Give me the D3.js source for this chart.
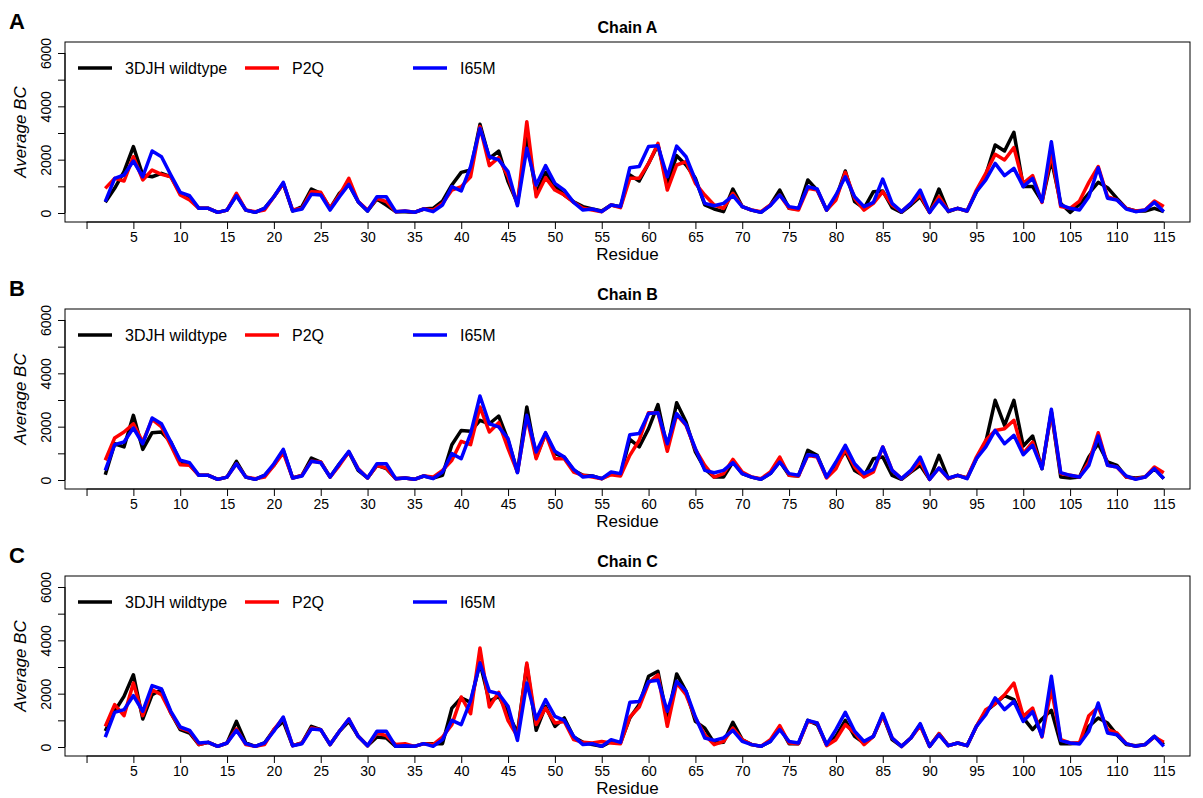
<!DOCTYPE html>
<html>
<head>
<meta charset="utf-8">
<script src="https://cdn.jsdelivr.net/npm/d3@7"></script>
<style>
  html, body { margin: 0; padding: 0; background: #fff; }
  svg { display: block; font-family: "Liberation Sans", Arial, sans-serif; }
</style>
</head>
<body>
<svg id="chart" width="1203" height="798"></svg>
<script>
// Residue numbers along the x axis
const residues = d3.range(2, 116);
const xTicks = d3.range(0, 116, 5);
const xLabels = d3.range(5, 116, 5);
const yTicks = [0, 1000, 2000, 3000, 4000, 5000, 6000];
const yLabels = [0, 2000, 4000, 6000];

const seriesNames = ["3DJH wildtype", "P2Q", "I65M"];
const seriesColors = ["#000000", "#ff0000", "#0000ff"];
const chainNames = ["Chain A", "Chain B", "Chain C"];
const panelLetters = ["A", "B", "C"];

// Average betweenness centrality per residue, chain A
const chainA_wt = [
  400, 925, 1550, 2490, 1425, 1360, 1490, 1360, 740, 550,
  175, 175, 25, 110, 675, 110, 25, 175, 610, 1110,
  75, 240, 900, 740, 175, 740, 1075, 425, 75, 525,
  300, 50, 50, 25, 150, 175, 450, 1050, 1525, 1610,
  3325, 2050, 2325, 1175, 360, 2800, 740, 1525, 1025, 675,
  425, 240, 150, 75, 300, 240, 1425, 1200, 1860, 2550,
  1110, 2150, 1800, 1300, 300, 150, 50, 900, 240, 110,
  25, 300, 860, 175, 150, 1240, 860, 110, 550, 1575,
  425, 175, 800, 825, 200, 25, 300, 610, 25, 900,
  50, 175, 75, 800, 1425, 2550, 2325, 3025, 990, 990,
  425, 1990, 360, 25, 325, 740, 1150, 950, 550, 175,
  75, 75, 175, 50
];
const chainA_p2q = [
  925, 1300, 1200, 2110, 1240, 1610, 1450, 1360, 675, 490,
  175, 175, 25, 110, 740, 110, 50, 110, 610, 1110,
  110, 175, 800, 775, 175, 675, 1300, 425, 110, 550,
  425, 50, 75, 25, 150, 110, 360, 860, 990, 1360,
  3240, 1775, 2075, 1360, 325, 3425, 610, 1325, 860, 675,
  400, 175, 110, 50, 300, 200, 1300, 1300, 1860, 2610,
  860, 1800, 1925, 1110, 675, 300, 175, 740, 240, 110,
  50, 300, 675, 175, 110, 925, 860, 110, 490, 1525,
  550, 110, 360, 800, 300, 50, 360, 675, 25, 610,
  75, 175, 75, 860, 1490, 2200, 1990, 2450, 1110, 1400,
  400, 2240, 240, 175, 450, 1150, 1740, 610, 490, 175,
  75, 110, 450, 240
];
const chainA_i65m = [
  425, 1300, 1425, 1950, 1360, 2325, 2110, 1425, 775, 650,
  175, 175, 25, 110, 650, 110, 25, 175, 610, 1150,
  75, 150, 700, 675, 110, 610, 1075, 425, 75, 610,
  610, 50, 75, 25, 150, 50, 300, 990, 825, 1740,
  3175, 2110, 1990, 1550, 275, 2425, 1050, 1775, 1110, 860,
  400, 110, 150, 50, 300, 240, 1700, 1740, 2490, 2525,
  1360, 2510, 2110, 1240, 360, 275, 360, 650, 240, 110,
  25, 275, 675, 240, 175, 990, 900, 110, 675, 1360,
  610, 240, 400, 1275, 360, 50, 360, 860, 25, 490,
  75, 175, 75, 800, 1240, 1860, 1400, 1675, 990, 1300,
  425, 2675, 300, 175, 110, 610, 1700, 550, 490, 150,
  50, 110, 400, 50
];

// Chain B
const chainB_wt = [
  200, 1360, 1240, 2425, 1150, 1775, 1800, 1425, 675, 575,
  175, 175, 25, 110, 700, 110, 25, 175, 550, 1110,
  75, 175, 825, 675, 110, 610, 1050, 360, 75, 550,
  425, 50, 75, 25, 150, 75, 175, 1325, 1860, 1825,
  2240, 2110, 2400, 1490, 300, 2740, 860, 1740, 990, 860,
  360, 175, 150, 50, 240, 200, 1525, 1240, 1925, 2825,
  1175, 2900, 2175, 1050, 425, 110, 110, 675, 240, 110,
  25, 240, 700, 175, 150, 1110, 925, 110, 550, 1075,
  360, 150, 800, 860, 175, 25, 300, 550, 25, 925,
  50, 175, 75, 800, 1425, 2990, 2050, 2990, 1275, 1650,
  425, 2550, 110, 75, 110, 860, 1360, 675, 550, 110,
  75, 110, 425, 50
];
const chainB_p2q = [
  740, 1575, 1800, 2110, 1425, 2275, 1990, 1300, 575, 550,
  175, 175, 25, 110, 610, 110, 50, 110, 550, 1025,
  75, 175, 700, 675, 110, 550, 1050, 425, 75, 550,
  450, 50, 75, 25, 150, 110, 360, 740, 1450, 1325,
  2740, 1800, 2150, 1175, 300, 2360, 800, 1740, 800, 800,
  300, 175, 110, 50, 200, 150, 925, 1490, 2525, 2525,
  1075, 2450, 2050, 1150, 550, 110, 240, 775, 300, 110,
  50, 300, 860, 175, 150, 925, 860, 75, 425, 1150,
  490, 110, 300, 1240, 360, 50, 325, 700, 25, 450,
  50, 175, 75, 860, 1490, 1860, 1925, 2240, 990, 1425,
  450, 2550, 240, 175, 110, 675, 1775, 550, 490, 110,
  50, 110, 490, 275
];
const chainB_i65m = [
  360, 1325, 1425, 1950, 1360, 2325, 2110, 1425, 740, 650,
  175, 175, 25, 110, 610, 110, 25, 175, 610, 1150,
  75, 150, 700, 650, 110, 610, 1075, 400, 75, 610,
  610, 50, 75, 25, 150, 50, 300, 990, 800, 1740,
  3150, 2110, 1990, 1550, 275, 2425, 1050, 1775, 1075, 860,
  400, 110, 150, 50, 300, 240, 1700, 1740, 2490, 2525,
  1360, 2490, 2075, 1175, 360, 275, 360, 650, 240, 110,
  25, 240, 675, 240, 175, 950, 900, 110, 675, 1300,
  610, 240, 400, 1240, 360, 50, 360, 860, 25, 450,
  75, 175, 50, 800, 1240, 1860, 1360, 1675, 950, 1300,
  425, 2650, 275, 175, 110, 550, 1650, 550, 490, 150,
  25, 110, 425, 50
];

// Chain C
const chainC_wt = [
  600, 1340, 1900, 2710, 1050, 1960, 2150, 1275, 650, 525,
  90, 175, 25, 150, 960, 150, 25, 150, 650, 960,
  50, 150, 775, 650, 90, 590, 960, 400, 50, 375,
  340, 25, 25, 25, 125, 125, 125, 1460, 1840, 1675,
  3160, 1710, 1900, 1275, 525, 3075, 625, 1525, 775, 1090,
  375, 175, 90, 25, 210, 150, 1090, 1590, 2650, 2840,
  1050, 2740, 2090, 960, 710, 150, 175, 925, 275, 90,
  25, 210, 750, 125, 125, 1000, 840, 90, 400, 1000,
  400, 150, 400, 1200, 275, 25, 340, 840, 25, 500,
  50, 150, 50, 775, 1340, 1625, 1925, 1775, 1090, 650,
  1050, 1375, 125, 125, 150, 775, 1090, 900, 460, 90,
  50, 90, 400, 90
];
const chainC_p2q = [
  775, 1590, 1175, 2400, 1175, 2150, 1960, 1275, 710, 590,
  90, 175, 25, 150, 675, 90, 25, 90, 650, 1090,
  50, 150, 710, 650, 90, 590, 1050, 400, 50, 525,
  425, 90, 125, 25, 125, 90, 375, 840, 1875, 1250,
  3710, 1500, 2050, 990, 400, 3150, 840, 1460, 900, 960,
  275, 175, 150, 210, 150, 125, 1125, 1500, 2400, 2710,
  775, 2400, 1960, 1090, 460, 90, 210, 710, 275, 90,
  25, 275, 800, 150, 125, 960, 900, 50, 275, 840,
  525, 90, 400, 1175, 340, 25, 340, 800, 25, 500,
  50, 150, 50, 775, 1400, 1625, 1960, 2400, 1150, 1460,
  375, 2175, 275, 150, 150, 1175, 1500, 650, 525, 125,
  25, 90, 375, 175
];
const chainC_i65m = [
  375, 1300, 1400, 1925, 1340, 2300, 2175, 1340, 750, 625,
  150, 175, 25, 150, 625, 125, 25, 150, 590, 1125,
  50, 125, 675, 650, 90, 590, 1050, 400, 50, 590,
  590, 25, 50, 25, 125, 25, 275, 1000, 840, 1740,
  3150, 2090, 2000, 1525, 250, 2400, 1050, 1775, 1150, 1000,
  400, 90, 125, 25, 275, 175, 1675, 1710, 2460, 2500,
  1340, 2460, 2090, 1125, 340, 250, 340, 625, 210, 90,
  25, 210, 650, 210, 150, 1000, 900, 90, 650, 1300,
  590, 210, 400, 1250, 340, 25, 340, 875, 25, 460,
  50, 150, 50, 775, 1210, 1840, 1400, 1710, 960, 1325,
  400, 2650, 250, 150, 110, 590, 1650, 525, 460, 125,
  25, 90, 400, 25
];

const chains = [
  [chainA_wt, chainA_p2q, chainA_i65m],
  [chainB_wt, chainB_p2q, chainB_i65m],
  [chainC_wt, chainC_p2q, chainC_i65m]
];

// ---- layout ----
const svg = d3.select("#chart");
const panelStep = 267;
const box = { left: 65, right: 1190, top: 42, bottom: 222 };

const x = d3.scaleLinear().domain([-2.3, 117.8]).range([box.left, box.right]);
const y = d3.scaleLinear().domain([-337, 6412]).range([box.bottom, box.top]);

const line = d3.line()
  .x((d, i) => x(residues[i]))
  .y(d => y(d));

chains.forEach((series, p) => {
  const g = svg.append("g").attr("transform", `translate(0,${p * panelStep})`);

  // panel letter and title
  g.append("text").attr("x", 9).attr("y", 29)
    .attr("font-size", 22).attr("font-weight", "bold").text(panelLetters[p]);
  g.append("text").attr("x", (box.left + box.right) / 2).attr("y", 33)
    .attr("text-anchor", "middle").attr("font-size", 16).attr("font-weight", "bold")
    .text(chainNames[p]);

  // plot frame
  g.append("rect")
    .attr("x", box.left).attr("y", box.top)
    .attr("width", box.right - box.left).attr("height", box.bottom - box.top)
    .attr("fill", "none").attr("stroke", "#000").attr("stroke-width", 1);

  // x axis
  const xAxis = g.append("g").attr("transform", `translate(0,${box.bottom})`)
    .call(d3.axisBottom(x).tickValues(xTicks).tickSize(7).tickPadding(3)
      .tickFormat(d => xLabels.includes(d) ? d3.format("d")(d) : ""));
  xAxis.select(".domain").attr("d", `M${x(xTicks[0])},0H${x(xTicks[xTicks.length - 1])}`);
  xAxis.selectAll("text").attr("font-size", 14).attr("font-family", "Liberation Sans, Arial, sans-serif");

  g.append("text").attr("x", (box.left + box.right) / 2).attr("y", box.bottom + 38)
    .attr("text-anchor", "middle").attr("font-size", 17).text("Residue");

  // y axis
  const yAxis = g.append("g").attr("transform", `translate(${box.left},0)`)
    .call(d3.axisLeft(y).tickValues(yTicks).tickSize(7).tickPadding(3)
      .tickFormat(d => yLabels.includes(d) ? d3.format("d")(d) : ""));
  yAxis.select(".domain").attr("d", `M0,${y(0)}V${y(6000)}`);
  yAxis.selectAll("text")
    .attr("font-size", 14).attr("font-family", "Liberation Sans, Arial, sans-serif")
    .attr("text-anchor", "middle").attr("x", null).attr("dy", null)
    .attr("transform", "translate(-18,0) rotate(-90)")
    .attr("dominant-baseline", "middle");

  g.append("text")
    .attr("transform", `translate(26,${(box.top + box.bottom) / 2}) rotate(-90)`)
    .attr("text-anchor", "middle").attr("font-size", 17).attr("font-style", "italic")
    .text("Average BC");

  // data lines
  series.forEach((vals, s) => {
    g.append("path").datum(vals)
      .attr("d", line)
      .attr("fill", "none")
      .attr("stroke", seriesColors[s])
      .attr("stroke-width", 3.5)
      .attr("stroke-linejoin", "round");
  });

  // legend
  const legendX = [78, 245, 413];
  seriesNames.forEach((name, s) => {
    g.append("line")
      .attr("x1", legendX[s]).attr("x2", legendX[s] + 34)
      .attr("y1", 68).attr("y2", 68)
      .attr("stroke", seriesColors[s]).attr("stroke-width", 3.5);
    g.append("text").attr("x", legendX[s] + 47).attr("y", 74)
      .attr("font-size", 16).text(name);
  });
});
</script>
</body>
</html>
